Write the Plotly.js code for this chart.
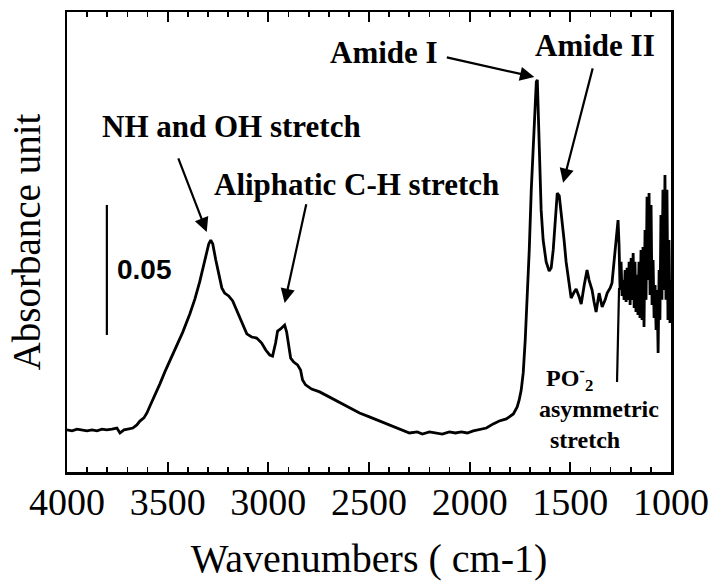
<!DOCTYPE html>
<html>
<head>
<meta charset="utf-8">
<script src="https://cdn.plot.ly/plotly-3.0.1.min.js"></script>
<style>
  html, body { margin: 0; padding: 0; background: #ffffff; }
  #chart { width: 722px; height: 581px; }
  #status { position: absolute; left: 300px; top: 215px; font: 10px monospace; color: transparent; white-space: pre; pointer-events: none; }
</style>
</head>
<body>
<div id="chart"></div>
<div id="status"></div>
<script>
const errs = [];
window.addEventListener("error", e => errs.push("onerror " + e.message));
window.addEventListener("unhandledrejection", e => errs.push("rej " + e.reason));
const wavenumber = [4000, 3975, 3950, 3926, 3901, 3876, 3851, 3826, 3802, 3777, 3752, 3737, 3717, 3698, 3673, 3653, 3638, 3618, 3603, 3588, 3564, 3539, 3514, 3489, 3455, 3425, 3390, 3365, 3341, 3321, 3306, 3296, 3286, 3276, 3261, 3246, 3231, 3217, 3197, 3177, 3152, 3127, 3107, 3083, 3058, 3033, 3013, 2993, 2979, 2964, 2954, 2939, 2929, 2919, 2909, 2899, 2889, 2874, 2855, 2840, 2830, 2815, 2785, 2745, 2696, 2646, 2597, 2547, 2498, 2433, 2374, 2324, 2299, 2260, 2235, 2200, 2165, 2136, 2101, 2071, 2041, 2012, 1982, 1952, 1917, 1883, 1853, 1818, 1783, 1764, 1754, 1744, 1734, 1724, 1714, 1704, 1694, 1684, 1674, 1669, 1664, 1660, 1655, 1645, 1635, 1620, 1605, 1595, 1585, 1575, 1565, 1555, 1545, 1531, 1521, 1506, 1496, 1481, 1471, 1456, 1446, 1431, 1417, 1407, 1392, 1382, 1372, 1357, 1342, 1327, 1317, 1302, 1293, 1283, 1273, 1263, 1258, 1253, 1248, 1243, 1238, 1233, 1228, 1223, 1218, 1213, 1208, 1203, 1198, 1193, 1188, 1183, 1179, 1174, 1169, 1164, 1159, 1154, 1149, 1144, 1139, 1134, 1129, 1124, 1119, 1114, 1109, 1104, 1099, 1094, 1089, 1084, 1079, 1074, 1069, 1064, 1059, 1055, 1050, 1045, 1040, 1035, 1030, 1025, 1020, 1015, 1010, 1005, 1000];
const absorbance = [0.0162, 0.0158, 0.0165, 0.0162, 0.0158, 0.0162, 0.0158, 0.0165, 0.0162, 0.0165, 0.0169, 0.0150, 0.0162, 0.0165, 0.0169, 0.0181, 0.0196, 0.0208, 0.0227, 0.0254, 0.0292, 0.0338, 0.0385, 0.0427, 0.0481, 0.0538, 0.0608, 0.0665, 0.0731, 0.0796, 0.0846, 0.0877, 0.0892, 0.0877, 0.0815, 0.0758, 0.0708, 0.0688, 0.0677, 0.0658, 0.0612, 0.0565, 0.0531, 0.0519, 0.0515, 0.0496, 0.0469, 0.0450, 0.0446, 0.0496, 0.0542, 0.0550, 0.0558, 0.0565, 0.0538, 0.0477, 0.0438, 0.0423, 0.0412, 0.0392, 0.0354, 0.0335, 0.0319, 0.0308, 0.0288, 0.0265, 0.0246, 0.0227, 0.0212, 0.0192, 0.0173, 0.0158, 0.0150, 0.0154, 0.0146, 0.0154, 0.0150, 0.0146, 0.0154, 0.0150, 0.0154, 0.0150, 0.0158, 0.0162, 0.0169, 0.0185, 0.0196, 0.0204, 0.0223, 0.0250, 0.0277, 0.0315, 0.0381, 0.0508, 0.0662, 0.0854, 0.1085, 0.1277, 0.1450, 0.1500, 0.1508, 0.1392, 0.1200, 0.1008, 0.0892, 0.0808, 0.0773, 0.0785, 0.0854, 0.0988, 0.1073, 0.1062, 0.1000, 0.0892, 0.0808, 0.0719, 0.0669, 0.0692, 0.0704, 0.0673, 0.0646, 0.0719, 0.0777, 0.0738, 0.0700, 0.0654, 0.0615, 0.0688, 0.0635, 0.0662, 0.0688, 0.0708, 0.0727, 0.0808, 0.0892, 0.0969, 0.0873, 0.0700, 0.0808, 0.0677, 0.0738, 0.0662, 0.0777, 0.0654, 0.0785, 0.0662, 0.0808, 0.0642, 0.0823, 0.0662, 0.0842, 0.0631, 0.0808, 0.0615, 0.0758, 0.0604, 0.0808, 0.0592, 0.0854, 0.0585, 0.0865, 0.0558, 0.0931, 0.0662, 0.1058, 0.0738, 0.1073, 0.0681, 0.1027, 0.0642, 0.0815, 0.0592, 0.0719, 0.0546, 0.0700, 0.0458, 0.0777, 0.0585, 0.0988, 0.0662, 0.1085, 0.0700, 0.1142, 0.0662, 0.1085, 0.0585, 0.0892, 0.0573, 0.0738];
const bandLabels = ["NH and OH stretch", "Aliphatic C-H stretch", "Amide I", "Amide II"];
const bandLabelX = [3184, 2562, 2428, 1377];
const bandLabelY = [0.1327, 0.1104, 0.1612, 0.1642];
const arrowTailX = [3450, 2810, 2121, 1387];
const arrowTailY = [0.1212, 0.1035, 0.1596, 0.1558];
const arrowHeadX = [3306, 2919, 1679, 1536];
const arrowHeadY = [0.0923, 0.0650, 0.1519, 0.1112];
const po2Lines = ["PO<sup>-</sup><sub>2</sub>", "asymmetric", "stretch"];
const po2LineX = [1506, 1357, 1426];
const po2LineY = [0.0362, 0.0242, 0.0123];
const po2PointerX = [1268, 1258];
const po2PointerY = [0.0346, 0.0708];
const scaleBarValue = 0.05;
const scaleBarX = 3802;
const scaleBarBottom = 0.0527;
const serif = "Liberation Serif";
const annotations = [];
bandLabels.forEach((t, i) => {
  annotations.push({ x: bandLabelX[i], y: bandLabelY[i], xref: "x", yref: "y", text: "<b>" + t + "</b>", showarrow: false, font: { family: serif, size: 31, color: "#000" } });
  annotations.push({ x: arrowHeadX[i], y: arrowHeadY[i], xref: "x", yref: "y", ax: arrowTailX[i], ay: arrowTailY[i], axref: "x", ayref: "y", text: "", showarrow: true, arrowhead: 2, arrowsize: 1.3, arrowwidth: 2.2, arrowcolor: "#000", standoff: 0, startstandoff: 0 });
});
po2Lines.forEach((t, i) => {
  annotations.push({ x: po2LineX[i], y: po2LineY[i], xref: "x", yref: "y", text: "<b>" + t + "</b>", showarrow: false, font: { family: serif, size: 24, color: "#000" } });
});
annotations.push({ x: 3613, y: scaleBarBottom + scaleBarValue / 2, xref: "x", yref: "y", text: "<b>" + scaleBarValue.toFixed(2) + "</b>", showarrow: false, font: { family: "Liberation Sans", size: 28, color: "#000" } });
const layout = {
  width: 722, height: 581,
  margin: { l: 67, r: 51, t: 12, b: 109 },
  xaxis: {
    range: [4000, 1000], tick0: 1000, dtick: 500,
    ticks: "inside", ticklen: 10, tickwidth: 2, tickcolor: "#000",
    minor: { dtick: 100, ticks: "inside", ticklen: 5, tickwidth: 1.8, tickcolor: "#000" },
    mirror: "ticks", showline: true, linewidth: 2.5, linecolor: "#000",
    showgrid: false, zeroline: false,
    tickfont: { family: serif, size: 38, color: "#000" },
    ticklabelstandoff: -5,
    title: { text: "Wavenumbers ( cm-1)", font: { family: serif, size: 40, color: "#000" }, standoff: 23 }
  },
  yaxis: { range: [0, 0.1769], showline: true, mirror: true, linewidth: 2.5, linecolor: "#000", ticks: "", showticklabels: false, showgrid: false, zeroline: false,
    title: { text: "Absorbance unit", font: { family: serif, size: 39, color: "#000" }, standoff: 12 } },
  annotations: annotations,
  shapes: [
    { type: "line", xref: "x", yref: "y", x0: scaleBarX, x1: scaleBarX, y0: scaleBarBottom, y1: scaleBarBottom + scaleBarValue, line: { color: "#000", width: 2.2 } },
    { type: "line", xref: "x", yref: "y", x0: po2PointerX[0], x1: po2PointerX[1], y0: po2PointerY[0], y1: po2PointerY[1], line: { color: "#000", width: 2.2 } }
  ]
};
const trace = { x: wavenumber, y: absorbance, type: "scatter", mode: "lines", line: { color: "#000", width: 2.8 } };
function afterRender(gd) {
  const out = errs.slice();
  const fx = gd._fullLayout.xaxis;
  out.push("v" + Plotly.version + " ticks=" + fx.ticks + " fam=" + fx.tickfont.family);
  out.push("xtick paths " + document.querySelectorAll("path.xtick").length);
  const lab = document.querySelector("g.xtick text");
  if (lab) out.push("lab " + (lab.getAttribute("style") || "").slice(0, 60));
  out.push("serif " + document.fonts.check('16px "Liberation Serif"') + " status " + document.fonts.status);
  document.getElementById("status").textContent = out.join("\n");
}
try {
  Plotly.newPlot("chart", [trace], layout, { staticPlot: true }).then(afterRender).catch(e => { document.getElementById("status").textContent = "ERR " + e + "\n" + errs.join("\n"); });
} catch (e) { document.getElementById("status").textContent = "SYNC ERR " + e; }
</script>
</body>
</html>
